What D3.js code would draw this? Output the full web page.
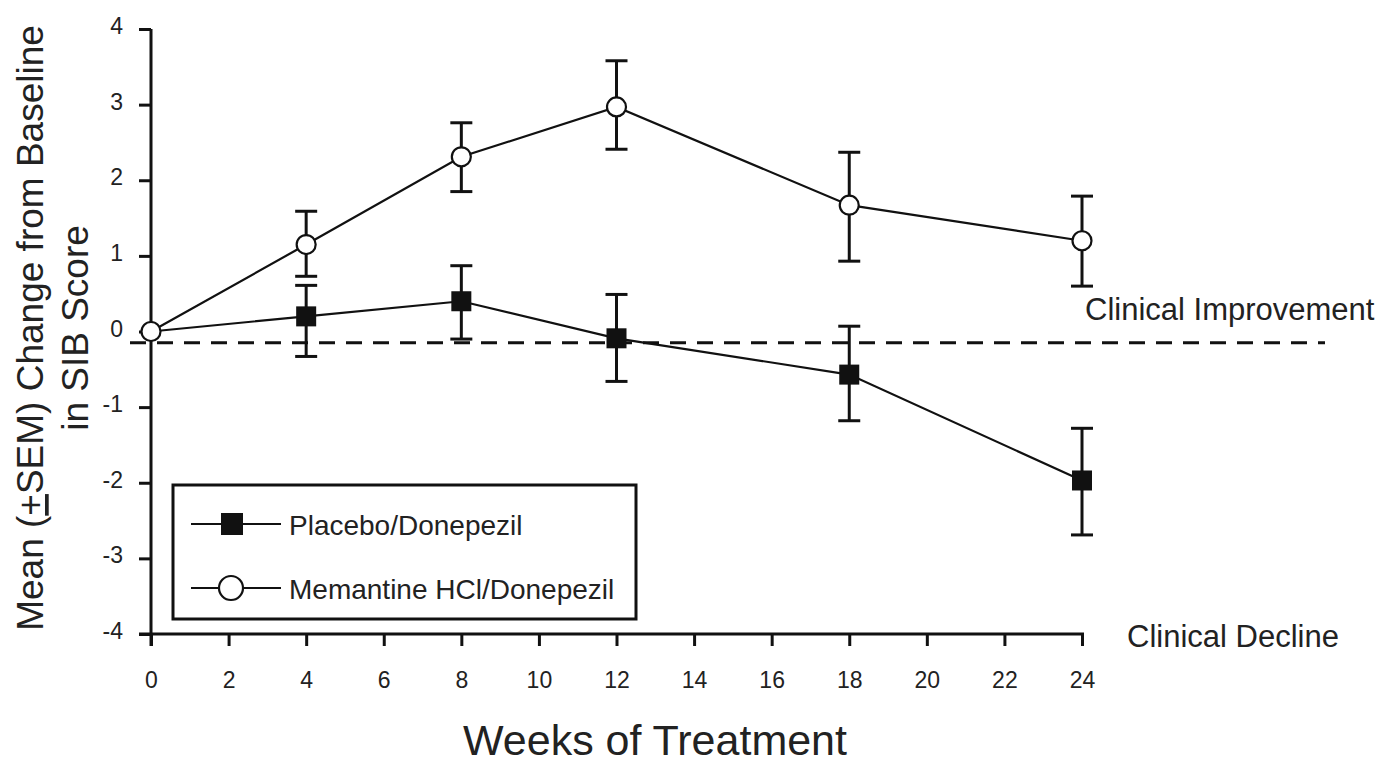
<!DOCTYPE html>
<html><head><meta charset="utf-8">
<script src="https://cdn.jsdelivr.net/npm/d3@7"></script>
<style>
body{margin:0;background:#fff;}
text{font-family:Arial,"Liberation Sans",Helvetica,sans-serif;fill:#222;}
</style></head>
<body><svg id="c" width="1400" height="763"></svg>
<script>
const weeks = [0, 4, 8, 12, 18, 24];
const placeboMean = [0, 0.2, 0.4, -0.09, -0.57, -1.97];
const placeboUpper = [0, 0.61, 0.87, 0.49, 0.07, -1.28];
const placeboLower = [0, -0.33, -0.1, -0.66, -1.18, -2.69];
const memantineMean = [0, 1.15, 2.31, 2.97, 1.67, 1.2];
const memantineUpper = [0, 1.59, 2.76, 3.58, 2.37, 1.79];
const memantineLower = [0, 0.73, 1.85, 2.41, 0.93, 0.6];
const xTicks = [0, 2, 4, 6, 8, 10, 12, 14, 16, 18, 20, 22, 24];
const yTicks = [-4, -3, -2, -1, 0, 1, 2, 3, 4];
const referenceLevel = -0.15;
const seriesNames = ["Placebo/Donepezil", "Memantine HCl/Donepezil"];

const svg = d3.select("#c");
const x = d3.scaleLinear().domain([0, 24]).range([151, 1082]);
const y = d3.scaleLinear().domain([-4, 4]).range([634, 29]);
const fmt = d => String(d);

// y axis
const ya = svg.append("g").attr("transform", `translate(${x(0)},0)`)
  .call(d3.axisLeft(y).tickValues(yTicks).tickSize(12).tickPadding(16).tickFormat(fmt));
ya.select(".domain").attr("stroke", "#111").attr("stroke-width", 3).attr("d", `M0,${y(4)}V${y(-4)+12}`);
ya.selectAll(".tick line").attr("stroke", "#111").attr("stroke-width", 3);
ya.selectAll(".tick text").attr("font-size", 23).attr("font-family", "Arial, 'Liberation Sans', sans-serif").attr("fill", "#222").attr("dy", "0.2em");

// x axis
const xa = svg.append("g").attr("transform", `translate(0,${y(-4)})`)
  .call(d3.axisBottom(x).tickValues(xTicks).tickSize(12).tickPadding(26).tickFormat(fmt));
xa.select(".domain").attr("stroke", "#111").attr("stroke-width", 3).attr("d", `M${x(0)-12},0H${x(24)+2}`);
xa.selectAll(".tick line").attr("stroke", "#111").attr("stroke-width", 3);
xa.selectAll(".tick text").attr("font-size", 23).attr("font-family", "Arial, 'Liberation Sans', sans-serif").attr("fill", "#222");

// dashed reference line
svg.append("line").attr("x1", 130).attr("x2", 1325)
  .attr("y1", y(referenceLevel)).attr("y2", y(referenceLevel))
  .attr("stroke", "#111").attr("stroke-width", 3).attr("stroke-dasharray", "16,11");

const line = d3.line().x(d => x(d[0])).y(d => y(d[1]));

function drawSeries(mean, upper, lower, shape) {
  const g = svg.append("g");
  const pts = weeks.map((w, i) => [w, mean[i]]);
  g.append("path").attr("d", line(pts)).attr("fill", "none").attr("stroke", "#111").attr("stroke-width", 2.2);
  weeks.forEach((w, i) => {
    if (upper[i] === lower[i]) return;
    const cx = x(w);
    g.append("line").attr("x1", cx).attr("x2", cx).attr("y1", y(upper[i])).attr("y2", y(lower[i])).attr("stroke", "#111").attr("stroke-width", 3);
    [upper[i], lower[i]].forEach(v => {
      g.append("line").attr("x1", cx - 11).attr("x2", cx + 11).attr("y1", y(v)).attr("y2", y(v)).attr("stroke", "#111").attr("stroke-width", 3);
    });
  });
  weeks.forEach((w, i) => {
    if (shape === "square") {
      if (i === 0) return;
      g.append("rect").attr("x", x(w) - 10).attr("y", y(mean[i]) - 10).attr("width", 20).attr("height", 20).attr("fill", "#111");
    } else {
      g.append("circle").attr("cx", x(w)).attr("cy", y(mean[i])).attr("r", 9.5).attr("fill", "#fff").attr("stroke", "#111").attr("stroke-width", 2.2);
    }
  });
}
drawSeries(placeboMean, placeboUpper, placeboLower, "square");
drawSeries(memantineMean, memantineUpper, memantineLower, "circle");

// legend
const lg = svg.append("g");
lg.append("rect").attr("x", 173).attr("y", 485).attr("width", 463).attr("height", 134)
  .attr("fill", "#fff").attr("stroke", "#111").attr("stroke-width", 3);
[0, 1].forEach(i => {
  const ly = 524 + i * 64;
  lg.append("line").attr("x1", 191).attr("x2", 281).attr("y1", ly).attr("y2", ly).attr("stroke", "#111").attr("stroke-width", 2.2);
  if (i === 0) lg.append("rect").attr("x", 221).attr("y", ly - 11).attr("width", 22).attr("height", 22).attr("fill", "#111");
  else lg.append("circle").attr("cx", 231).attr("cy", ly).attr("r", 12).attr("fill", "#fff").attr("stroke", "#111").attr("stroke-width", 2.2);
  lg.append("text").attr("x", 289).attr("y", ly + 11).attr("font-size", 28).text(seriesNames[i]);
});

// annotations
svg.append("text").attr("x", 1085).attr("y", 320).attr("font-size", 31).text("Clinical Improvement");
svg.append("text").attr("x", 1127).attr("y", 647).attr("font-size", 31).text("Clinical Decline");

// axis titles
svg.append("text").attr("x", 655).attr("y", 755).attr("text-anchor", "middle").attr("font-size", 43).text("Weeks of Treatment");
const yt = svg.append("text").attr("transform", `translate(43,328) rotate(-90)`).attr("text-anchor", "middle").attr("font-size", 37);
yt.append("tspan").text("Mean (");
yt.append("tspan").attr("text-decoration", "underline").text("+");
yt.append("tspan").text("SEM) Change from Baseline");
svg.append("text").attr("transform", `translate(88,328) rotate(-90)`).attr("text-anchor", "middle").attr("font-size", 37).text("in SIB Score");
</script></body></html>
